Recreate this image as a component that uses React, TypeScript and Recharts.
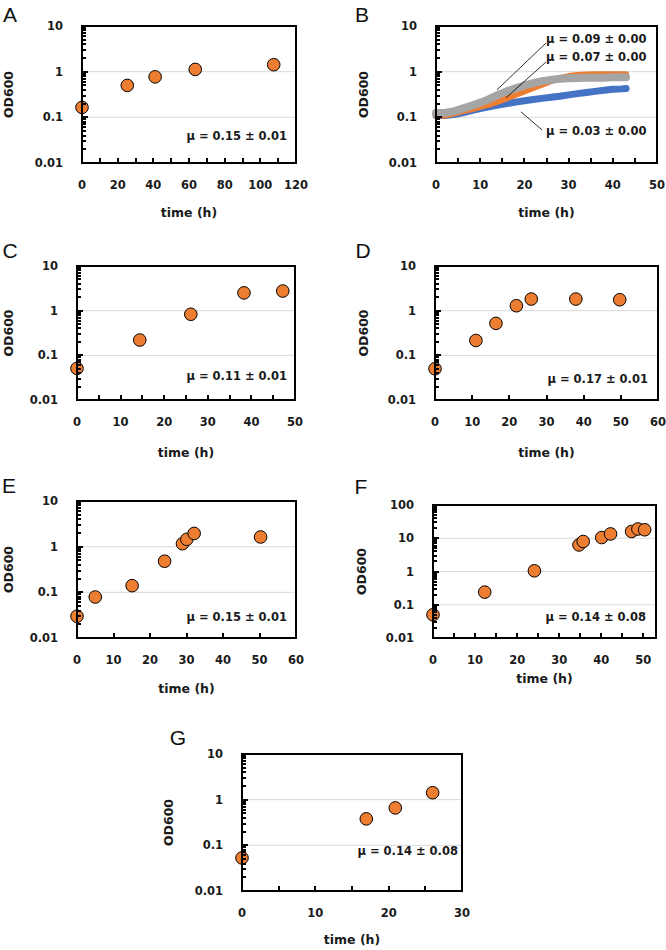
import {
  CartesianGrid,
  ComposedChart,
  Label,
  Line,
  ReferenceLine,
  Scatter,
  XAxis,
  YAxis,
} from "recharts";

const ORANGE = "#ED7D31";
const BLUE = "#4472C4";
const GRAY = "#A5A5A5";
const FONT = "'DejaVu Sans', Verdana, sans-serif";

// y axis decades (labelled ticks)
const Y_MAJOR_10 = [0.01, 0.1, 1, 10];
const Y_MAJOR_100 = [0.01, 0.1, 1, 10, 100];
const MINOR_STEPS = [2, 3, 4, 5, 6, 7, 8, 9];

// A
const A_TIME = [0, 25.4, 41, 63.5, 107.5];
const A_OD = [0.165, 0.5, 0.77, 1.12, 1.42];
const A_X_TICKS = [0, 10, 20, 30, 40, 50, 60, 70, 80, 90, 100, 110, 120];
const A_X_LABELS = [0, 20, 40, 60, 80, 100, 120];

// B (plate reader curves)
const B_TIME = [0, 2, 4, 6, 8, 10, 12, 14, 16, 18, 20, 22, 24, 26, 28, 30, 32, 34, 36, 38, 40, 42, 43];
const B_BLUE = [0.11, 0.11, 0.115, 0.125, 0.14, 0.155, 0.17, 0.185, 0.2, 0.215, 0.23, 0.245, 0.26, 0.275, 0.29, 0.31, 0.33, 0.35, 0.37, 0.39, 0.41, 0.42, 0.43];
const B_ORANGE = [0.11, 0.11, 0.12, 0.135, 0.15, 0.17, 0.19, 0.22, 0.26, 0.31, 0.37, 0.44, 0.52, 0.62, 0.72, 0.8, 0.85, 0.87, 0.88, 0.88, 0.88, 0.88, 0.88];
const B_GRAY = [0.125, 0.125, 0.135, 0.155, 0.18, 0.21, 0.25, 0.31, 0.37, 0.43, 0.5, 0.56, 0.62, 0.66, 0.7, 0.72, 0.73, 0.74, 0.74, 0.74, 0.75, 0.75, 0.75];
const B_X_TICKS = [0, 5, 10, 15, 20, 25, 30, 35, 40, 45, 50];
const B_X_LABELS = [0, 10, 20, 30, 40, 50];

// C
const C_TIME = [0, 14.4, 26.1, 38.3, 47.2];
const C_OD = [0.051, 0.22, 0.83, 2.5, 2.75];
const C_X_TICKS = [0, 5, 10, 15, 20, 25, 30, 35, 40, 45, 50];
const C_X_LABELS = [0, 10, 20, 30, 40, 50];

// D
const D_TIME = [0, 11, 16.4, 21.9, 25.9, 37.9, 49.7];
const D_OD = [0.05, 0.215, 0.52, 1.29, 1.82, 1.82, 1.76];
const D_X_TICKS = [0, 10, 20, 30, 40, 50, 60];
const D_X_LABELS = [0, 10, 20, 30, 40, 50, 60];

// E
const E_TIME = [0, 5, 15.1, 24, 28.9, 30.1, 32.1, 50.3];
const E_OD = [0.03, 0.079, 0.14, 0.48, 1.16, 1.45, 1.95, 1.63];
const E_X_TICKS = [0, 10, 20, 30, 40, 50, 60];
const E_X_LABELS = [0, 10, 20, 30, 40, 50, 60];

// F
const F_TIME = [0, 12.3, 24.1, 34.7, 35.7, 40.1, 42.2, 47.2, 48.7, 50.3];
const F_OD = [0.05, 0.24, 1.05, 6.3, 8, 10.5, 13.5, 16, 19, 18];
const F_X_TICKS = [0, 5, 10, 15, 20, 25, 30, 35, 40, 45, 50];
const F_X_LABELS = [0, 10, 20, 30, 40, 50];

// G
const G_TIME = [0, 16.95, 20.9, 26];
const G_OD = [0.053, 0.38, 0.66, 1.42];
const G_X_TICKS = [0, 5, 10, 15, 20, 25, 30];
const G_X_LABELS = [0, 10, 20, 30];

const zip = (t: number[], od: number[]) => t.map((v, i) => ({ t: v, od: od[i] }));

const withMinor = (majors: number[]) =>
  [
    ...majors,
    ...majors.slice(0, -1).flatMap((d) => MINOR_STEPS.map((m) => +(d * m).toPrecision(3))),
  ].sort((a, b) => a - b);

const YW = 80;
const MT = 8;
const MR = 16;
const XH = 62;
const Y_GAP = 19;
const X_GAP = 14;

type Pt = { t: number; od: number };
type Mu = { text: string; x: number; y: number; align: "left" | "right" };

type PanelDef = {
  letter: string;
  letterPos: [number, number];
  left: number;
  top: number;
  width: number;
  height: number;
  xDomain: [number, number];
  xTicks: number[];
  xLabels: number[];
  yMajors: number[];
  yLabelDx: number;
  xLabelDy: number;
  points?: Pt[];
  curves?: { data: Pt[]; color: string; width: number }[];
  pointers?: { from: [number, number]; to: [number, number] }[];
  mu: Mu[];
};

const PANELS: PanelDef[] = [
  {
    letter: "A", letterPos: [10, 14],
    left: 82, top: 26, width: 214, height: 137,
    xDomain: [0, 120], xTicks: A_X_TICKS, xLabels: A_X_LABELS,
    yMajors: Y_MAJOR_10, yLabelDx: 74, xLabelDy: 49,
    points: zip(A_TIME, A_OD),
    mu: [{ text: "μ = 0.15 ± 0.01", x: 287, y: 137, align: "right" }],
  },
  {
    letter: "B", letterPos: [362, 14],
    left: 436, top: 26, width: 221, height: 137,
    xDomain: [0, 50], xTicks: B_X_TICKS, xLabels: B_X_LABELS,
    yMajors: Y_MAJOR_10, yLabelDx: 73, xLabelDy: 49,
    curves: [
      { data: zip(B_TIME, B_BLUE), color: BLUE, width: 7 },
      { data: zip(B_TIME, B_ORANGE), color: ORANGE, width: 6 },
      { data: zip(B_TIME, B_GRAY), color: GRAY, width: 8 },
    ],
    pointers: [
      { from: [24.9, 4.25], to: [13.8, 0.4] },
      { from: [24.9, 1.63], to: [15.8, 0.266] },
      { from: [19.2, 0.132], to: [24.0, 0.053] },
    ],
    mu: [
      { text: "μ = 0.09 ± 0.00", x: 546, y: 40, align: "left" },
      { text: "μ = 0.07 ± 0.00", x: 546, y: 58, align: "left" },
      { text: "μ = 0.03 ± 0.00", x: 546, y: 132, align: "left" },
    ],
  },
  {
    letter: "C", letterPos: [10, 250],
    left: 77, top: 266, width: 218, height: 134,
    xDomain: [0, 50], xTicks: C_X_TICKS, xLabels: C_X_LABELS,
    yMajors: Y_MAJOR_10, yLabelDx: 69, xLabelDy: 52,
    points: zip(C_TIME, C_OD),
    mu: [{ text: "μ = 0.11 ± 0.01", x: 287, y: 377, align: "right" }],
  },
  {
    letter: "D", letterPos: [363, 250],
    left: 435, top: 266, width: 223, height: 134,
    xDomain: [0, 60], xTicks: D_X_TICKS, xLabels: D_X_LABELS,
    yMajors: Y_MAJOR_10, yLabelDx: 72, xLabelDy: 52,
    points: zip(D_TIME, D_OD),
    mu: [{ text: "μ = 0.17 ± 0.01", x: 648, y: 380, align: "right" }],
  },
  {
    letter: "E", letterPos: [9, 485],
    left: 77, top: 501, width: 219, height: 137,
    xDomain: [0, 60], xTicks: E_X_TICKS, xLabels: E_X_LABELS,
    yMajors: Y_MAJOR_10, yLabelDx: 69, xLabelDy: 50,
    points: zip(E_TIME, E_OD),
    mu: [{ text: "μ = 0.15 ± 0.01", x: 287, y: 618, align: "right" }],
  },
  {
    letter: "F", letterPos: [361, 486],
    left: 433, top: 505, width: 223, height: 133,
    xDomain: [0, 53], xTicks: F_X_TICKS, xLabels: F_X_LABELS,
    yMajors: Y_MAJOR_100, yLabelDx: 72, xLabelDy: 40,
    points: zip(F_TIME, F_OD),
    mu: [{ text: "μ = 0.14 ± 0.08", x: 646, y: 618, align: "right" }],
  },
  {
    letter: "G", letterPos: [178, 737],
    left: 242, top: 754, width: 220, height: 137,
    xDomain: [0, 30], xTicks: G_X_TICKS, xLabels: G_X_LABELS,
    yMajors: Y_MAJOR_10, yLabelDx: 74, xLabelDy: 48,
    points: zip(G_TIME, G_OD),
    mu: [{ text: "μ = 0.14 ± 0.08", x: 458, y: 852, align: "right" }],
  },
];

const tickText = { fontFamily: FONT, fontWeight: 700, fontSize: 11.5, fill: "#1a1a1a" };
const titleText = { fontFamily: FONT, fontWeight: 700, fontSize: 12.5, fill: "#1a1a1a" };

function Panel({ p }: { p: PanelDef }) {
  const y0 = p.yMajors[0];
  const y1 = p.yMajors[p.yMajors.length - 1];

  const renderXTick = (props: any) => (
    <text x={props.x} y={props.y + 12} textAnchor="middle" {...tickText}>
      {props.payload.value}
    </text>
  );

  const renderYTick = (props: any) => (
    <text x={props.x} y={props.y + 4} textAnchor="end" {...tickText}>
      {String(props.payload.value)}
    </text>
  );

  return (
    <div style={{ position: "absolute", left: p.left - YW, top: p.top - MT }}>
      <ComposedChart
        width={YW + p.width + MR}
        height={MT + p.height + XH}
        margin={{ top: MT, right: MR, bottom: 0, left: 0 }}
      >
        <CartesianGrid vertical={false} horizontalValues={p.yMajors.slice(1, -1)} stroke="#d9d9d9" />
        <XAxis
          type="number"
          dataKey="t"
          domain={p.xDomain}
          ticks={p.xLabels}
          interval={0}
          height={XH}
          tickSize={0}
          tickMargin={X_GAP}
          tickLine={false}
          axisLine={false}
          tick={renderXTick}
        >
          <Label
            content={({ viewBox }: any) => (
              <text
                x={viewBox.x + viewBox.width / 2}
                y={viewBox.y + p.xLabelDy}
                textAnchor="middle"
                dominantBaseline="central"
                {...titleText}
              >
                time (h)
              </text>
            )}
          />
        </XAxis>
        <YAxis
          type="number"
          dataKey="od"
          scale="log"
          domain={[y0, y1]}
          ticks={p.yMajors}
          interval={0}
          width={YW}
          tickSize={0}
          tickMargin={Y_GAP}
          tickLine={false}
          axisLine={false}
          tick={renderYTick}
        >
          <Label
            content={({ viewBox }: any) => {
              const x = viewBox.x + viewBox.width - p.yLabelDx;
              const y = viewBox.y + viewBox.height / 2;
              return (
                <text
                  x={x}
                  y={y}
                  transform={`rotate(-90 ${x} ${y})`}
                  textAnchor="middle"
                  dominantBaseline="central"
                  {...titleText}
                >
                  OD600
                </text>
              );
            }}
          />
        </YAxis>
        {p.curves?.map((c, i) => (
          <Line
            key={"c" + i}
            data={c.data}
            dataKey="od"
            stroke={c.color}
            strokeWidth={c.width}
            strokeLinecap="round"
            strokeLinejoin="round"
            dot={false}
            activeDot={false}
            legendType="none"
            isAnimationActive={false}
          />
        ))}
        {p.pointers?.map((s, i) => (
          <ReferenceLine
            key={"p" + i}
            segment={[
              { x: s.from[0], y: s.from[1] },
              { x: s.to[0], y: s.to[1] },
            ]}
            stroke="#000"
            strokeWidth={0.8}
          />
        ))}
        {p.points && (
          <Scatter
            data={p.points}
            dataKey="od"
            legendType="none"
            isAnimationActive={false}
            shape={(s: any) => (
              <circle cx={s.cx} cy={s.cy} r={6.3} fill={ORANGE} stroke="#000" strokeWidth={1} />
            )}
          />
        )}
      </ComposedChart>
    </div>
  );
}

// Excel-style box round the plot with inside ticks (log minor ticks on y)
function Frame({ p }: { p: PanelDef }) {
  const [x0, x1] = p.xDomain;
  const y0 = p.yMajors[0];
  const y1 = p.yMajors[p.yMajors.length - 1];
  const decades = Math.log10(y1 / y0);
  const yPos = (v: number) => p.top + (p.height * Math.log10(y1 / v)) / decades;
  const xPos = (t: number) => p.left + (p.width * (t - x0)) / (x1 - x0);
  return (
    <>
      <div
        style={{
          position: "absolute",
          left: p.left - 1,
          top: p.top - 1,
          width: p.width + 2,
          height: p.height + 2,
          boxSizing: "border-box",
          border: "2px solid #000",
        }}
      />
      {withMinor(p.yMajors).map((v) => (
        <div
          key={"y" + v}
          style={{
            position: "absolute",
            left: p.left + 1,
            top: Math.round(yPos(v)) - 1,
            width: p.yMajors.includes(v) ? 5 : 3,
            height: 2,
            background: "#000",
          }}
        />
      ))}
      {p.xTicks.map((t) => (
        <div
          key={"x" + t}
          style={{
            position: "absolute",
            left: Math.round(xPos(t)) - 1,
            top: p.top + p.height - 5,
            width: 2,
            height: 4,
            background: "#000",
          }}
        />
      ))}
    </>
  );
}

export default function App() {
  return (
    <div
      style={{
        position: "absolute",
        left: 0,
        top: 0,
        width: 666,
        height: 950,
        background: "#fff",
        overflow: "hidden",
      }}
    >
      {PANELS.map((p) => (
        <Panel key={p.letter} p={p} />
      ))}
      {PANELS.map((p) => (
        <Frame key={"f" + p.letter} p={p} />
      ))}
      {PANELS.map((p) => (
        <div
          key={"l" + p.letter}
          style={{
            position: "absolute",
            left: p.letterPos[0],
            top: p.letterPos[1],
            transform: "translate(-50%, -50%)",
            fontFamily: "'Liberation Sans', Arial, sans-serif",
            fontSize: 21,
            lineHeight: 1,
            color: "#111",
          }}
        >
          {p.letter}
        </div>
      ))}
      {PANELS.flatMap((p) =>
        p.mu.map((m, i) => (
          <div
            key={p.letter + "mu" + i}
            style={{
              position: "absolute",
              left: m.x,
              top: m.y,
              transform: m.align === "right" ? "translate(-100%, -50%)" : "translate(0, -50%)",
              fontFamily: FONT,
              fontWeight: 700,
              fontSize: 11.5,
              lineHeight: 1,
              whiteSpace: "nowrap",
              color: "#1a1a1a",
            }}
          >
            {m.text}
          </div>
        ))
      )}
    </div>
  );
}
